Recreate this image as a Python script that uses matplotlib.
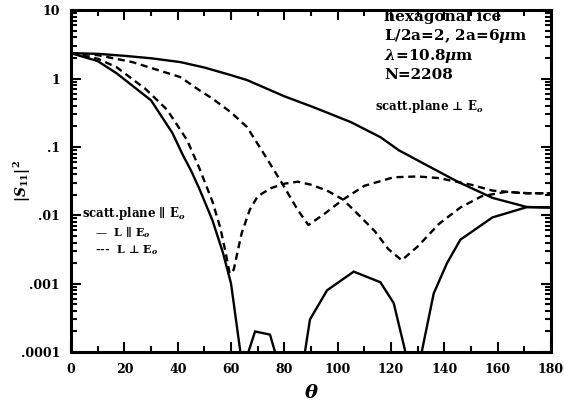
import numpy as np
import matplotlib
matplotlib.use('Agg')
import matplotlib.pyplot as plt
from matplotlib.ticker import FixedLocator, LogLocator, NullFormatter

plt.rcParams.update({
    'font.family': 'DejaVu Serif',
    'font.weight': 'bold',
    'mathtext.fontset': 'dejavuserif',
})

# scatt. plane perpendicular to E0
perp_solid_x = [0, 10, 20, 30, 41, 50, 60, 66, 80, 91, 105, 116, 123, 135, 145, 158, 171, 180]
perp_solid_y = [2.35, 2.3, 2.15, 1.98, 1.74, 1.45, 1.12, 0.95, 0.55, 0.38, 0.23, 0.139, 0.089,
                0.05, 0.031, 0.018, 0.0132, 0.013]
perp_dash_x = [0, 10, 23, 41, 48, 53, 60, 66, 72, 79, 85, 89, 95, 102, 110, 121, 130, 138, 150,
               158, 170, 180]
perp_dash_y = [2.35, 2.2, 1.74, 1.05, 0.68, 0.51, 0.32, 0.195, 0.083, 0.03, 0.012, 0.0072, 0.0105,
               0.017, 0.027, 0.036, 0.037, 0.035, 0.028, 0.023, 0.021, 0.021]

# scatt. plane parallel to E0
par_solid_x = [0, 10, 17, 30, 38, 42, 45, 48, 53, 57, 60, 63.5, 65, 66.5, 69, 74.6, 76.5, 82,
               87.7, 89.6, 96, 106, 116, 121, 125.4, 128.5, 131.5, 136, 141, 146, 158, 171, 180]
par_solid_y = [2.35, 1.8, 1.2, 0.48, 0.16, 0.075, 0.045, 0.025, 0.0085, 0.0028, 0.001, 0.0001,
               1e-5, 0.0001, 0.0002, 0.00018, 0.0001, 1e-5, 0.0001, 0.0003, 0.0008, 0.0015,
               0.00105, 0.00052, 0.0001, 1e-5, 0.0001, 0.00072, 0.002, 0.0044, 0.0093, 0.0132,
               0.013]
par_dash_x = [0, 10, 17, 28, 36, 43.5, 48, 53, 56, 58, 59.5, 61, 62.5, 64, 67, 70, 75, 80, 85, 90,
              96, 102, 108, 114, 119, 124, 130, 138, 146, 154, 163, 172, 180]
par_dash_y = [2.35, 1.95, 1.47, 0.7, 0.35, 0.126, 0.05, 0.016, 0.0065, 0.0028, 0.0014, 0.0016,
              0.003, 0.0055, 0.012, 0.019, 0.025, 0.029, 0.031, 0.028, 0.023, 0.017, 0.01, 0.0058,
              0.0032, 0.0022, 0.0035, 0.0075, 0.013, 0.019, 0.022, 0.021, 0.021]

x_ticks = [0, 20, 40, 60, 80, 100, 120, 140, 160, 180]
y_ticks = [1e-4, 1e-3, 1e-2, 1e-1, 1, 10]
y_tick_labels = ['.0001', '.001', '.01', '.1', '1', '10']

fig = plt.figure(figsize=(5.64, 4.07), dpi=100)
ax = fig.add_axes([0.126, 0.135, 0.851, 0.84])

lw = 1.7
ax.plot(perp_solid_x, perp_solid_y, color='black', lw=lw, solid_joinstyle='round')
ax.plot(perp_dash_x, perp_dash_y, color='black', lw=lw, ls=(0, (3, 2)))
ax.plot(par_solid_x, par_solid_y, color='black', lw=lw, solid_joinstyle='miter')
ax.plot(par_dash_x, par_dash_y, color='black', lw=lw, ls=(0, (3, 2)))

ax.set_yscale('log')
ax.set_xlim(0, 180)
ax.set_ylim(1e-4, 10)

ax.xaxis.set_major_locator(FixedLocator(x_ticks))
ax.xaxis.set_minor_locator(FixedLocator(np.arange(10, 180, 20)))
ax.set_xticklabels([str(t) for t in x_ticks])
ax.yaxis.set_major_locator(FixedLocator(y_ticks))
ax.yaxis.set_minor_locator(LogLocator(base=10, subs=np.arange(2, 10)))
ax.yaxis.set_minor_formatter(NullFormatter())
ax.set_yticklabels(y_tick_labels)

ax.tick_params(which='both', direction='in', top=True, right=True, width=1.5)
ax.tick_params(which='major', length=7, labelsize=9, pad=8)
ax.tick_params(which='minor', length=4)
for s in ax.spines.values():
    s.set_linewidth(2.2)

ax.set_xlabel(r'$\theta$', fontsize=14, labelpad=6)
ax.set_ylabel(r'$|S_{11}|^2$', fontsize=10)
ax.yaxis.set_label_coords(-0.08, 0.5)

ax.text(0.652, 1.0, 'hexagonal ice\nL/2a=2, 2a=6$\\mu$m\n$\\lambda$=10.8$\\mu$m\nN=2208',
        transform=ax.transAxes, ha='left', va='top', fontsize=11, linespacing=1.2)
ax.text(0.633, 0.707, 'scatt.plane \u22a5 E$_o$', transform=ax.transAxes, fontsize=8.5)
ax.text(0.022, 0.395, 'scatt.plane \u2225 E$_o$', transform=ax.transAxes, fontsize=8.5)
ax.text(0.05, 0.34, '\u2014  L \u2225 E$_o$', transform=ax.transAxes, fontsize=8)
ax.text(0.05, 0.29, '---  L \u22a5 E$_o$', transform=ax.transAxes, fontsize=8)

fig.savefig('out.png', dpi=100)
